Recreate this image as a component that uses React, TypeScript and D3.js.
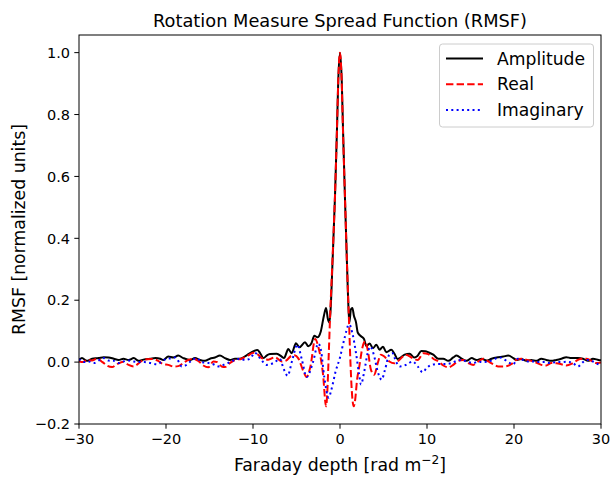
import React from "react";
import * as d3 from "d3";

// Faraday depth [rad m^-2], value pairs
const amplitude: [number, number][] = [
  [-30, 0.007], [-29.66, 0.013], [-29.1, 0.004], [-28.5, 0.011], [-27.75, 0.013], [-27.17, 0.016],
  [-26.6, 0.015], [-26.0, 0.011], [-25.45, 0.007], [-24.9, 0.011], [-24.3, 0.007], [-23.7, 0.013],
  [-23.15, 0.004], [-22.6, 0.008], [-21.8, 0.011], [-21.2, 0.013], [-20.66, 0.011], [-20.3, 0.007],
  [-19.74, 0.018], [-19.16, 0.015], [-18.59, 0.021], [-18.01, 0.013], [-17.24, 0.007], [-16.67, 0.013],
  [-16.1, 0.007], [-15.52, 0.004], [-14.95, 0.011], [-14.37, 0.015], [-13.8, 0.021], [-13.22, 0.013],
  [-12.65, 0.007], [-12.07, 0.011], [-11.5, 0.011], [-10.73, 0.022], [-10.15, 0.032], [-9.5, 0.039],
  [-9.2, 0.03], [-8.8, 0.013], [-8.4, 0.022], [-8.05, 0.026], [-7.28, 0.027], [-6.7, 0.018],
  [-6.44, 0.013], [-5.94, 0.042], [-5.56, 0.029], [-5.06, 0.061], [-4.67, 0.048], [-4.02, 0.064],
  [-3.64, 0.051], [-3.3, 0.06], [-2.95, 0.085], [-2.6, 0.08], [-2.2, 0.1], [-1.85, 0.15],
  [-1.6, 0.175], [-1.4, 0.14], [-1.22, 0.128], [-1.1, 0.16], [-0.85, 0.33], [-0.57, 0.54],
  [-0.35, 0.75], [-0.2, 0.91], [0, 1.0], [0.2, 0.91], [0.35, 0.75], [0.57, 0.53],
  [0.8, 0.32], [1.0, 0.16], [1.08, 0.128], [1.25, 0.17], [1.42, 0.175], [1.6, 0.15],
  [1.83, 0.13], [2.05, 0.095], [2.45, 0.083], [2.76, 0.075], [3.02, 0.052], [3.41, 0.06],
  [3.79, 0.045], [4.17, 0.056], [4.56, 0.04], [4.94, 0.05], [5.32, 0.032], [5.9, 0.04],
  [6.28, 0.026], [6.6, 0.01], [6.86, 0.013], [7.43, 0.024], [8.0, 0.027], [8.54, 0.015],
  [8.9, 0.02], [9.35, 0.036], [9.8, 0.035], [10.14, 0.032], [10.72, 0.024], [11.3, 0.011],
  [11.87, 0.011], [12.44, 0.004], [13.02, 0.015], [13.4, 0.021], [13.98, 0.011], [14.55, 0.004],
  [15.13, 0.013], [15.7, 0.007], [16.27, 0.011], [16.85, 0.005], [17.42, 0.011], [18.0, 0.015],
  [18.77, 0.018], [19.34, 0.021], [19.92, 0.013], [20.26, 0.007], [20.84, 0.01], [21.41, 0.004],
  [21.99, 0.007], [22.56, 0.004], [23.14, 0.011], [23.71, 0.007], [24.29, 0.004], [24.86, 0.007],
  [25.44, 0.011], [26.01, 0.016], [26.59, 0.013], [27.35, 0.013], [27.93, 0.011], [28.5, 0.004],
  [29.08, 0.011], [29.73, 0.007], [30, 0.006],
];

const real: [number, number][] = [
  [-30, 0.002], [-29.5, 0.0], [-29.1, 0.007], [-28.5, 0.005], [-27.94, 0.011], [-27.3, 0.0],
  [-26.8, -0.011], [-26.2, -0.016], [-25.6, -0.006], [-24.9, 0.001], [-24.3, -0.009], [-23.7, -0.014],
  [-23.2, -0.005], [-22.77, 0.004], [-22.2, 0.009], [-21.6, 0.01], [-20.9, 0.004], [-20.3, -0.007],
  [-19.74, -0.009], [-19.16, -0.014], [-18.6, -0.013], [-18.01, -0.003], [-17.44, 0.007], [-16.86, 0.011],
  [-16.29, 0.004], [-15.71, -0.011], [-15.14, -0.017], [-14.56, 0.002], [-14.1, 0.0], [-13.6, -0.014],
  [-13.22, -0.016], [-12.65, -0.003], [-12.07, 0.007], [-11.3, 0.011], [-10.54, 0.022], [-9.97, 0.03],
  [-9.5, 0.026], [-9.0, 0.013], [-8.24, 0.008], [-7.47, 0.016], [-6.7, 0.002], [-6.2, 0.005],
  [-5.6, 0.02], [-5.2, 0.022], [-4.79, 0.012], [-4.2, -0.03], [-3.85, -0.048], [-3.4, -0.014],
  [-2.85, 0.075], [-2.5, 0.05], [-1.95, -0.04], [-1.6, -0.143], [-1.45, -0.09], [-1.3, 0.02],
  [-1.15, 0.14], [-0.88, 0.32], [-0.58, 0.535], [-0.35, 0.75], [-0.2, 0.91], [0, 1.0],
  [0.19, 0.91], [0.34, 0.75], [0.57, 0.535], [0.8, 0.32], [1.03, 0.137], [1.2, 0.0],
  [1.35, -0.09], [1.58, -0.143], [1.75, -0.12], [1.95, -0.06], [2.22, -0.014], [2.6, 0.05],
  [2.91, 0.067], [3.18, 0.04], [3.56, -0.025], [3.94, -0.041], [4.33, -0.004], [4.71, 0.024],
  [5.09, 0.018], [5.67, 0.002], [6.24, -0.004], [6.82, 0.007], [7.58, 0.024], [8.35, 0.013],
  [8.93, 0.007], [9.6, 0.029], [10.14, 0.026], [10.72, 0.011], [11.3, 0.002], [11.87, -0.011],
  [12.44, -0.017], [13.02, -0.009], [13.6, 0.004], [14.17, 0.007], [14.74, -0.003], [15.32, -0.009],
  [15.89, 0.002], [16.47, 0.011], [17.04, 0.002], [17.62, -0.007], [18.19, -0.014], [18.96, -0.014],
  [19.72, -0.006], [20.26, 0.007], [20.84, 0.011], [21.4, 0.008], [21.99, 0.004], [22.6, -0.002],
  [23.14, -0.009], [23.71, -0.011], [24.29, -0.003], [24.9, -0.004], [25.44, -0.007], [26.01, -0.011],
  [26.6, -0.006], [27.16, 0.004], [27.74, 0.011], [28.31, 0.011], [28.89, 0.004], [29.46, -0.003],
  [30, -0.001],
];

const imaginary: [number, number][] = [
  [-30, 0.01], [-29.47, 0.0], [-28.9, 0.002], [-28.3, -0.003], [-27.7, 0.006], [-27.17, 0.013],
  [-26.6, 0.005], [-26.0, 0.004], [-25.45, -0.003], [-24.9, 0.002], [-24.3, 0.005], [-23.7, 0.002],
  [-23.15, 0.0], [-22.5, 0.0], [-21.8, -0.003], [-21.04, -0.007], [-20.5, 0.001], [-20.0, 0.01],
  [-19.5, 0.012], [-18.97, 0.015], [-18.5, 0.0], [-18.2, -0.014], [-17.7, -0.01], [-17.1, 0.004],
  [-16.48, 0.013], [-15.9, 0.0], [-15.3, -0.002], [-14.56, -0.007], [-13.99, -0.014], [-13.4, -0.009],
  [-12.65, 0.0], [-12.07, 0.007], [-11.5, 0.011], [-10.92, 0.007], [-10.27, 0.013], [-9.8, 0.03],
  [-9.2, 0.013], [-8.43, -0.009], [-7.66, -0.003], [-6.9, 0.01], [-6.5, -0.02], [-6.02, -0.044],
  [-5.5, 0.005], [-4.9, 0.056], [-4.4, 0.01], [-3.83, -0.048], [-3.1, 0.0], [-2.5, 0.06],
  [-2.2, 0.04], [-1.8, -0.05], [-1.3, -0.115], [-1.0, -0.09], [-0.5, -0.03], [0, 0.015],
  [0.5, 0.075], [1.05, 0.122], [1.45, 0.09], [1.84, 0.029], [2.2, -0.04], [2.41, -0.072],
  [2.79, -0.03], [3.18, 0.029], [3.5, 0.05], [3.94, 0.018], [4.33, -0.03], [4.79, -0.057],
  [5.17, -0.025], [5.67, 0.024], [6.05, 0.029], [6.43, 0.002], [6.89, -0.014], [7.58, -0.009],
  [8.35, 0.002], [8.93, -0.014], [9.5, -0.033], [9.95, -0.019], [10.53, -0.009], [11.3, -0.006],
  [12.06, -0.006], [12.83, -0.003], [13.4, 0.004], [13.98, 0.007], [14.55, 0.002], [15.32, -0.003],
  [15.9, 0.001], [16.47, 0.0], [17.1, 0.002], [17.81, 0.011], [18.38, 0.015], [18.96, 0.007],
  [19.53, -0.003], [19.88, -0.007], [20.45, 0.011], [21.03, 0.007], [21.6, 0.002], [22.18, 0.002],
  [22.75, 0.0], [23.52, 0.0], [24.1, -0.003], [24.8, 0.0], [25.44, 0.0], [26.1, 0.001],
  [26.78, -0.003], [27.35, -0.014], [27.93, 0.0], [28.5, 0.007], [29.08, 0.002], [29.73, -0.007],
  [30, -0.008],
];

const xTicks = [-30, -20, -10, 0, 10, 20, 30];
const yTicks = [-0.2, 0.0, 0.2, 0.4, 0.6, 0.8, 1.0];
const seriesNames = ["Amplitude", "Real", "Imaginary"];
const seriesColors = ["#000000", "#ff0000", "#0000ff"];
const seriesDash = ["none", "7.4,3.2", "2,3.3"];

const FONT = "'DejaVu Sans', sans-serif";

export default function App() {
  const W = 613, H = 477;
  const L = 79, R = 601, T = 35, B = 424;
  const x = d3.scaleLinear().domain([-30, 30]).range([L, R]);
  const y = d3.scaleLinear().domain([-0.2, 1.057]).range([B, T]);
  const line = d3
    .line<[number, number]>()
    .x((d) => x(d[0]))
    .y((d) => y(d[1]))
    .curve(d3.curveMonotoneX);
  const fmt = (v: number) => (v < 0 ? "\u2212" : "") + Math.abs(v).toString();
  const fmtY = (v: number) => (v < -1e-9 ? "\u2212" : "") + Math.abs(v).toFixed(1);
  const data = [amplitude, real, imaginary];

  return (
    <svg
      width={W}
      height={H}
      style={{ position: "absolute", left: 0, top: 0, background: "#fff" }}
      fontFamily={FONT}
    >
      <rect x={0} y={0} width={W} height={H} fill="#fff" />
      <defs>
        <clipPath id="plot">
          <rect x={L} y={T} width={R - L} height={B - T} />
        </clipPath>
      </defs>
      <g clipPath="url(#plot)">
        {data.map((d, i) => (
          <path
            key={i}
            d={line(d) || ""}
            fill="none"
            stroke={seriesColors[i]}
            strokeWidth={2}
            strokeDasharray={seriesDash[i]}
            strokeLinejoin="round"
          />
        ))}
      </g>
      {/* frame */}
      <rect x={L} y={T} width={R - L} height={B - T} fill="none" stroke="#000" strokeWidth={1} />
      {/* x ticks */}
      {xTicks.map((t) => (
        <g key={t}>
          <line x1={x(t)} x2={x(t)} y1={B} y2={B + 4.7} stroke="#000" strokeWidth={1} />
          <text x={x(t)} y={B + 20} textAnchor="middle" fontSize={14.5} fill="#000">
            {fmt(t)}
          </text>
        </g>
      ))}
      {yTicks.map((t) => (
        <g key={t}>
          <line x1={L - 4.7} x2={L} y1={y(t)} y2={y(t)} stroke="#000" strokeWidth={1} />
          <text
            x={L - 9}
            y={y(t)}
            dy="0.36em"
            textAnchor="end"
            fontSize={14.5}
            fill="#000"
          >
            {fmtY(t)}
          </text>
        </g>
      ))}
      {/* title */}
      <text x={(L + R) / 2} y={27} textAnchor="middle" fontSize={17.8} fill="#000">
        Rotation Measure Spread Function (RMSF)
      </text>
      {/* x label */}
      <text x={(L + R) / 2} y={471} textAnchor="middle" fontSize={17.3} fill="#000">
        Faraday depth [rad m
        <tspan dy={-7} fontSize={12.2}>{"\u22122"}</tspan>
        <tspan dy={7}>]</tspan>
      </text>
      {/* y label */}
      <text
        transform={`translate(25,${(T + B) / 2}) rotate(-90)`}
        textAnchor="middle"
        fontSize={17.3}
        fill="#000"
      >
        RMSF [normalized units]
      </text>
      {/* legend */}
      <g>
        <rect
          x={439.5}
          y={44}
          width={154}
          height={83}
          rx={3}
          fill="#fff"
          fillOpacity={0.8}
          stroke="#cccccc"
          strokeWidth={1}
        />
        {seriesNames.map((n, i) => {
          const cy = 58.5 + i * 25.7;
          return (
            <g key={n}>
              <line
                x1={446}
                x2={483}
                y1={cy}
                y2={cy}
                stroke={seriesColors[i]}
                strokeWidth={2}
                strokeDasharray={seriesDash[i]}
              />
              <text x={497} y={cy} dy="0.36em" fontSize={17.2} fill="#000">
                {n}
              </text>
            </g>
          );
        })}
      </g>
    </svg>
  );
}
